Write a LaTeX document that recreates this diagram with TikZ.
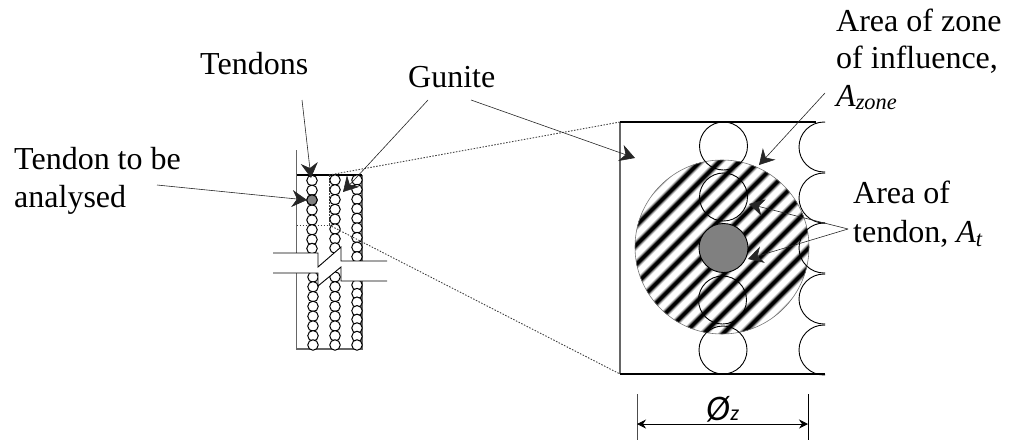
\documentclass[tikz,border=0pt]{standalone}
\usepackage{fontspec}
\setmainfont{Liberation Serif}
\newfontfamily\dimfont{Carlito}
\usetikzlibrary{arrows.meta}
\tikzset{
  x=1pt,y=-1pt,
  lab/.style={font=\fontsize{32}{37.5}\selectfont,inner sep=0pt,align=left},
  edge/.style={line width=1.1pt,draw=black},
  wire/.style={line width=0.9pt,draw=black},
  grayedge/.style={line width=1.4pt,draw=black!60},
  dots/.style={line width=0.9pt,draw=black!75,dash pattern=on 1.5pt off 1.5pt},
  small/.style={circle,line width=1pt,draw=black,fill=white,minimum size=10.5pt,inner sep=0pt},
  big/.style={line width=0.9pt,draw=black},
  lead/.style={line width=0.6pt,draw=black!85,-{Stealth[length=15pt,width=17pt,inset=5pt]}},
  dim/.style={line width=0.7pt,draw=black,{Stealth[length=9pt,width=9pt,inset=3pt]}-{Stealth[length=9pt,width=9pt,inset=3pt]}}
}
\begin{document}
\begin{tikzpicture}
\useasboundingbox (0,0) rectangle (1011,445);
% small section
\draw[grayedge] (296.5,150) -- (296.5,253);
\draw[grayedge] (296.5,273) -- (296.5,349) -- (362,349) -- (362,281);
\draw[grayedge] (362,175) -- (362,261);
\draw[edge] (296.5,175) -- (362,175);
\draw[dots] (296.5,225) -- (329,225) -- (329,175);
\foreach \y in {180.5,190.3,200,210,220,229.8,239.6,248.5}{\node[small] at (312,\y) {};}
\foreach \y in {180,189.8,199.6,209.4,219.2,229,238.8,248}{\node[small] at (335,\y) {};}
\foreach \y in {180,189.6,199.2,208.8,218.4,228,237.6,247.2,256.8}{\node[small] at (357,\y) {};}
\node[small,fill=black!50] (target) at (312,200) {};
\foreach \y in {277,286.8,296.6,306.4,316.2,326,335.8,345}{
  \node[small] at (313,\y) {};
  \node[small] at (335,\y) {};}
\foreach \y in {285,293.6,302.2,310.8,319.4,328,336.5,345}{\node[small] at (357,\y) {};}
% break
\fill[white] (273,253) -- (318,253) -- (318,267) -- (341,247) -- (341,261) -- (387,261) -- (387,281) -- (341,281) -- (341,267) -- (318,286) -- (318,273) -- (273,273) -- cycle;
\draw[wire] (273,253) -- (318,253) -- (318,267) -- (341,247) -- (341,261) -- (387,261);
\draw[wire] (273,273) -- (318,273) -- (318,286) -- (341,267) -- (341,281) -- (387,281);
% hatched zone
\begin{scope}
\clip (722,247) circle (87);
\foreach \k in {-12,...,12}{
  \foreach \w/\g in {8/12,6.8/30,5.6/50,4.4/70,3.4/90,2.6/100}{
    \draw[line width=\w pt,draw=black!\g] ({722+(\k+0.5)*19.5-150},{247+150}) -- ({722+(\k+0.5)*19.5+150},{247-150});
  }
}
\end{scope}
\draw[line width=0.6pt,draw=black!55] (722,247) circle (87);
% big frame
\draw[grayedge] (620,122) -- (620,374);
\draw[edge] (620,122) -- (816,122);
\draw[edge] (620,374) -- (825,374);
\draw[dots] (329,175) -- (620,122);
\draw[dots] (329,225) -- (620,374);
% big tendons
\draw[big] (723.5,146) circle (24);
\draw[big] (723.5,197) circle (24);
\draw[big] (722.5,300) circle (24);
\draw[big] (723,350) circle (24);
\node[circle,draw=black,line width=0.9pt,fill=black!50,minimum size=49pt,inner sep=0pt] (bigt) at (723.5,248) {};
\begin{scope}
\clip (780,100) rectangle (825,380);
\foreach \y in {147,198,248,299,350}{\draw[big] (824,\y) circle (25);}
\end{scope}
% dimension
\draw[line width=1pt,draw=black!70] (637,394) -- (637,440);
\draw[line width=1pt] (808,394) -- (808,440);
\coordinate (dl) at (637,424);
\coordinate (dr) at (808,424);
\draw[dim] (dl) -- (dr);
\node[inner sep=0pt,anchor=base west] at (706,420) {\dimfont\itshape\fontsize{36}{36}\selectfont Ø\kern0.5pt\raisebox{0pt}{\fontsize{22}{22}\selectfont z}};
% labels
\node[lab,anchor=base west] (tendons) at (200,74) {Tendons};
\node[lab,anchor=base west] (gunite) at (408,87) {Gunite};
\node[lab,anchor=base west] (analysed) at (14,207) {Tendon to be\\analysed};
\node[lab,anchor=base west] (zone) at (836,106) {Area of zone\\of influence,\\\textit{A\textsubscript{zone}}};
\node[lab,anchor=base west] (area) at (853,203) {Area of};
\node[lab,anchor=base west] (areat) at (853,242) {tendon, \textit{A\textsubscript{t}}};
% leaders
\coordinate (p1) at (302,100);
\coordinate (p2) at (157,185);
\coordinate (g1) at (428,100);
\coordinate (g2) at (471,100);
\coordinate (z1) at (825,93);
\coordinate (a1) at (848,229);
\draw[lead] (p1) -- (311,178);
\draw[lead] (p2) -- (307,200);
\draw[lead] (g1) -- (343,192);
\draw[lead] (g2) -- (635,158);
\draw[lead] (z1) -- (759,165);
\draw[lead] (a1) -- (749,204);
\draw[lead] (a1) -- (748,259);
\end{tikzpicture}
\end{document}
